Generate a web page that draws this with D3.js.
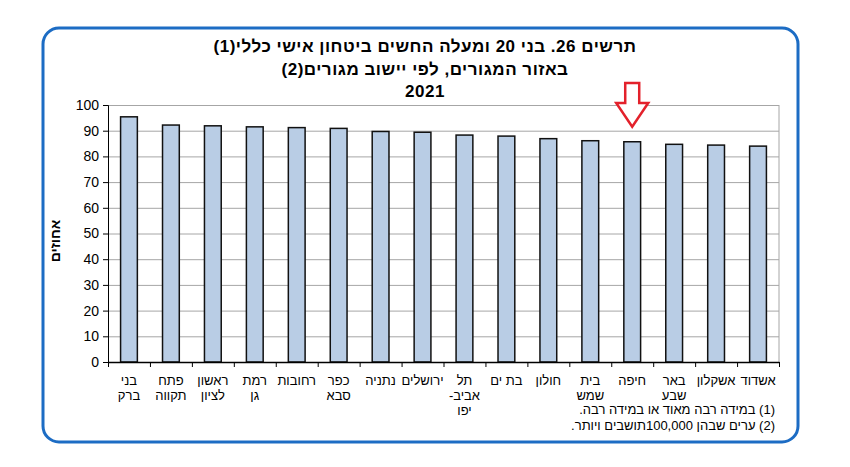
<!DOCTYPE html>
<html>
<head>
<meta charset="utf-8">
<script src="https://cdn.jsdelivr.net/npm/d3@7"></script>
<style>
  body { margin: 0; background: #fff; }
  svg { display: block; font-family: "Liberation Sans", Arial, sans-serif; }
</style>
</head>
<body>
<div id="chart"></div>
<script>
// data
var cities = [
    ["בני", "ברק"], ["פתח", "תקווה"], ["ראשון", "לציון"], ["רמת", "גן"],
    ["רחובות"], ["כפר", "סבא"], ["נתניה"], ["ירושלים"],
    ["תל", "אביב-", "יפו"], ["בת ים"], ["חולון"], ["בית", "שמש"],
    ["חיפה"], ["באר", "שבע"], ["אשקלון"], ["אשדוד"]
];
var percents = [95.4, 92.2, 91.9, 91.5, 91.2, 90.9, 89.7, 89.4,
                88.3, 87.9, 86.9, 86.1, 85.7, 84.7, 84.4, 84.0];
var yTicks = [0, 10, 20, 30, 40, 50, 60, 70, 80, 90, 100];
var titleLines = ["תרשים 26. בני 20 ומעלה החשים ביטחון אישי כללי(1)",
                  "באזור המגורים, לפי יישוב מגורים(2)",
                  "2021"];
var yTitle = "אחוזים";
var notes = ["(1) במידה רבה מאוד או במידה רבה.",
             "(2) ערים שבהן 100,000תושבים ויותר."];
var markedCity = 12; // the red arrow points at Haifa

var W = 850, H = 467;
var plotL = 108, plotR = 779, plotT = 105, plotB = 362;

var svg = d3.select("#chart").append("svg")
    .attr("width", W).attr("height", H);

// blue frame
svg.append("rect")
    .attr("x", 43).attr("y", 28)
    .attr("width", 755).attr("height", 414)
    .attr("rx", 16).attr("ry", 16)
    .attr("fill", "none")
    .attr("stroke", "#1c6cc4")
    .attr("stroke-width", 3);

var x = d3.scaleBand()
    .domain(d3.range(percents.length))
    .range([plotL, plotR])
    .paddingInner(0.6)
    .paddingOuter(0.3);

var y = d3.scaleLinear()
    .domain([0, 100])
    .range([plotB, plotT]);

// gridlines
svg.append("g")
    .attr("transform", "translate(" + plotL + ",0)")
    .call(d3.axisLeft(y).tickValues(yTicks.slice(1)).tickSize(-(plotR - plotL)).tickFormat(""))
    .call(g => g.select(".domain").remove())
    .selectAll("line")
    .attr("stroke", "#a6a6a6");

// right border of plot area
svg.append("line")
    .attr("x1", plotR).attr("x2", plotR)
    .attr("y1", plotT).attr("y2", plotB)
    .attr("stroke", "#a6a6a6");

// bars
svg.append("g")
    .selectAll("rect")
    .data(percents)
    .join("rect")
    .attr("x", (d, i) => x(i))
    .attr("y", d => y(d))
    .attr("width", x.bandwidth())
    .attr("height", d => y(0) - y(d))
    .attr("fill", "#b9cde5")
    .attr("stroke", "#111")
    .attr("stroke-width", 1.5);

// y axis
var yAxis = svg.append("g")
    .attr("transform", "translate(" + plotL + ",0)")
    .call(d3.axisLeft(y).tickValues(yTicks).tickSize(5).tickPadding(4));
yAxis.select(".domain").attr("stroke", "#000");
yAxis.selectAll("line").attr("stroke", "#000");
yAxis.selectAll("text")
    .attr("font-size", 14)
    .attr("fill", "#000")
    .attr("font-family", "Liberation Sans, Arial, sans-serif");

// x axis, ticks on the category boundaries
var xb = d3.scaleLinear().domain([0, percents.length]).range([plotL, plotR]);
var xAxis = svg.append("g")
    .attr("transform", "translate(0," + plotB + ")")
    .call(d3.axisBottom(xb).tickValues(d3.range(percents.length + 1)).tickSize(5).tickFormat("").tickSizeOuter(0));
xAxis.select(".domain").attr("stroke", "#000").attr("stroke-width", 1.5);
xAxis.selectAll("line").attr("stroke", "#000");

// category labels, one text per line
var labelG = svg.append("g");
cities.forEach((lines, i) => {
    lines.forEach((line, j) => {
        labelG.append("text")
            .attr("x", x(i) + x.bandwidth() / 2)
            .attr("y", 385 + j * 15)
            .attr("text-anchor", "middle")
            .attr("direction", "rtl")
            .attr("font-size", 13)
            .attr("fill", "#000")
            .text(line);
    });
});

// title
svg.append("g")
    .selectAll("text")
    .data(titleLines)
    .join("text")
    .attr("x", 425)
    .attr("y", (d, i) => 52 + i * 22.5)
    .attr("text-anchor", "middle")
    .attr("direction", "rtl")
    .attr("font-size", 17)
    .attr("letter-spacing", 0.5)
    .attr("font-weight", "bold")
    .attr("fill", "#000")
    .text(d => d);

// y axis title
svg.append("text")
    .attr("transform", "translate(60," + 241 + ") rotate(-90)")
    .attr("text-anchor", "middle")
    .attr("direction", "rtl")
    .attr("font-size", 14)
    .attr("font-weight", "bold")
    .attr("fill", "#000")
    .text(yTitle);

// footnotes, right aligned (measured so the anchor does not depend on direction)
svg.append("g")
    .selectAll("text")
    .data(notes)
    .join("text")
    .attr("y", (d, i) => 414 + i * 16)
    .attr("text-anchor", "middle")
    .attr("direction", "rtl")
    .attr("font-size", 13)
    .attr("fill", "#000")
    .text(d => d)
    .attr("x", function() { return 775 - this.getComputedTextLength() / 2; });

// red outline arrow above the marked bar
var ax = x(markedCity) + x.bandwidth() / 2;
var arrowTop = 83, neck = 103, tip = y(percents[markedCity]) - 15;
svg.append("path")
    .attr("d", d3.line()([
        [ax - 7, arrowTop], [ax + 7, arrowTop], [ax + 7, neck], [ax + 16, neck],
        [ax, tip], [ax - 16, neck], [ax - 7, neck]
    ]) + "Z")
    .attr("fill", "#fff")
    .attr("stroke", "#e3212b")
    .attr("stroke-width", 2.5)
    .attr("stroke-linejoin", "miter");
</script>
</body>
</html>
